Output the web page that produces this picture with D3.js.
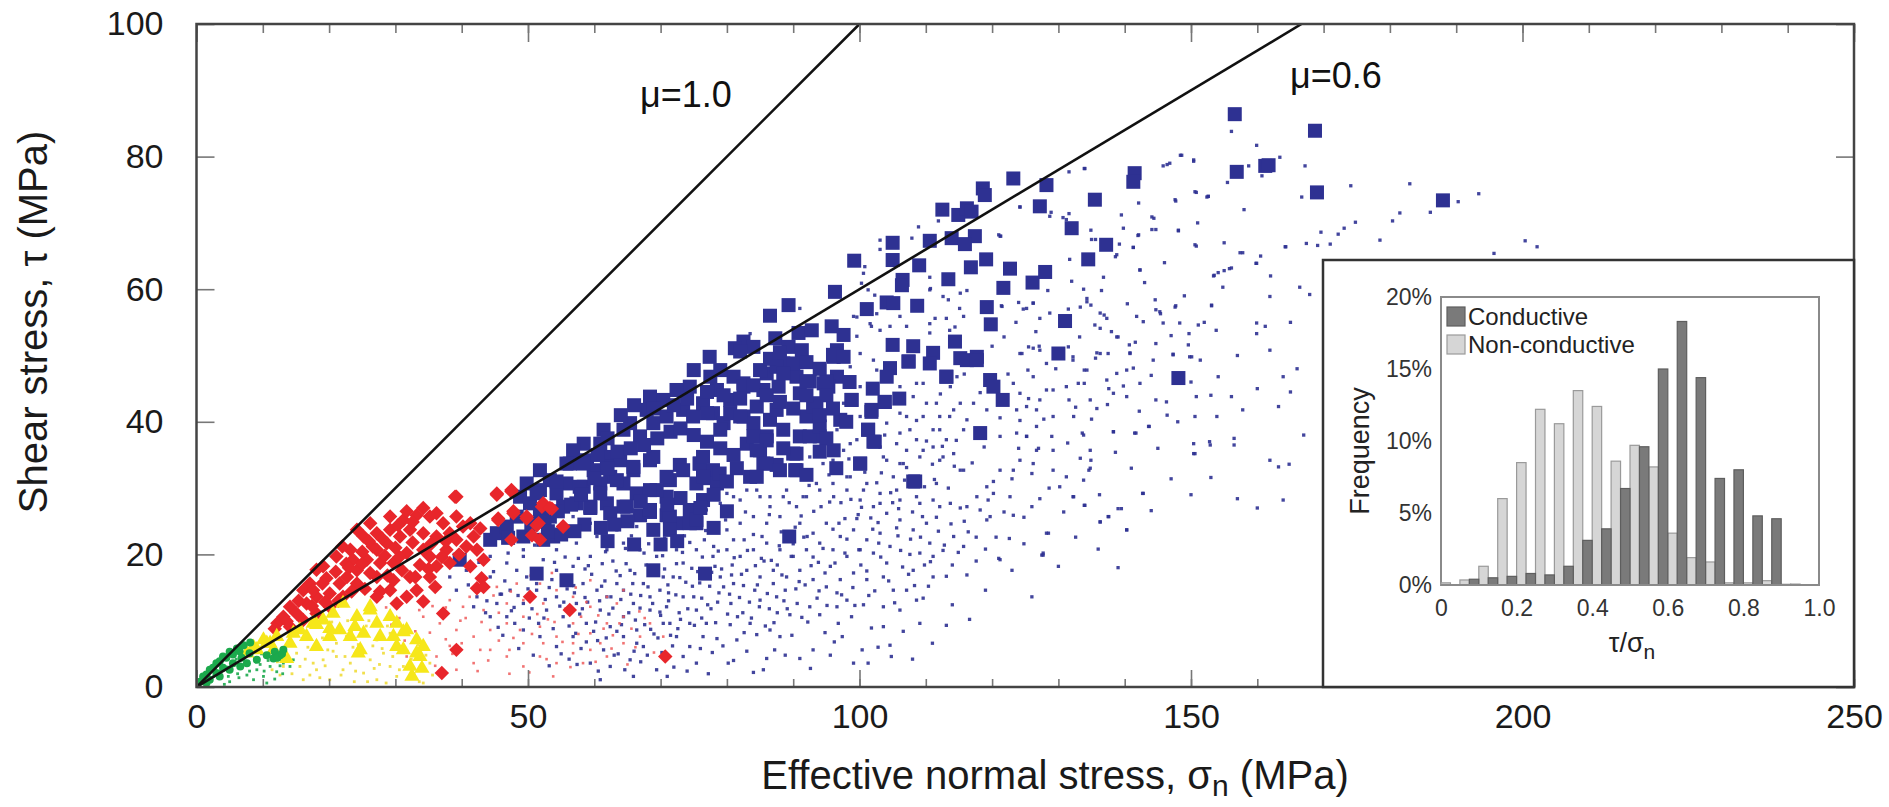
<!DOCTYPE html>
<html>
<head>
<meta charset="utf-8">
<script src="https://cdn.jsdelivr.net/npm/d3@7"></script>
<style>
  html, body { margin: 0; padding: 0; background: #fff; }
  svg { display: block; font-family: "Liberation Sans", Arial, sans-serif; }
</style>
</head>
<body>
<div id="chart"></div>
<script>
// ---- data ----
const xTicksMajor = [0, 50, 100, 150, 200, 250];
const xTicksMinor = d3.range(0, 251, 10);
const yTicksMajor = [0, 20, 40, 60, 80, 100];

const frictionLines = [
  { mu: 1.0, label: "μ=1.0", lx: 640, ly: 107 },
  { mu: 0.6, label: "μ=0.6", lx: 1290, ly: 88 }
];

// blue squares (conductive, large set)
const blueSquares = [
  [123.2,76.7],[118.6,75.2],[118.9,74.2],[128.2,75.7],[141.5,77.5],[141.3,76.2],[112.5,72.0],[114.9,71.2],
  [116.2,72.2],[116.9,71.7],[127.2,72.5],[135.5,73.5],[132.0,69.2],[110.6,67.3],[113.9,67.7],[117.4,68.0],
  [115.9,66.8],[105.0,67.0],[105.0,64.4],[99.2,64.3],[109.0,63.6],[119.1,64.5],[116.8,63.3],[122.7,63.1],
  [137.2,66.7],[134.5,64.5],[128.0,62.6],[106.5,61.4],[106.4,60.6],[113.4,61.5],[121.7,60.2],[126.1,61.0],
  [96.3,59.6],[89.3,57.6],[86.5,56.0],[101.1,57.0],[104.1,58.0],[105.1,57.9],[108.7,57.5],[119.2,57.3],
  [119.8,54.7],[131.0,55.2],[82.5,52.1],[87.3,52.6],[90.8,53.4],[92.8,53.8],[95.8,54.4],[97.6,53.1],
  [96.6,50.8],[105.0,51.6],[108.1,51.4],[114.4,52.1],[111.1,50.4],[117.7,49.8],[130.0,50.3],[77.4,49.8],
  [81.2,51.1],[84.0,51.3],[89.3,51.3],[91.3,50.8],
  [156.6,86.4],[168.7,83.9],[156.9,77.7],[161.2,78.6],[161.7,78.7],[169.0,74.6],[188.0,73.4],[148.1,46.6],
  [115.2,49.6],[110.6,48.8],[113.1,46.8],[107.4,49.1],[104.6,48.1],[104.1,46.8],[96.1,49.8],[96.6,46.8],
  [94.6,45.8],[95.3,45.3],[92.5,46.1],[90.5,46.8],[88.5,48.8],[86.0,47.3],[87.8,45.3],[85.5,44.8],
  [82.5,45.8],[81.0,46.8],[79.0,47.8],[77.5,46.8],[75.0,47.8],[74.4,45.3],[72.4,44.8],[70.4,43.3],
  [68.4,43.8],[67.9,41.8],[65.4,39.8],[68.9,39.8],[70.9,40.8],[73.4,41.8],[74.9,40.8],[76.4,42.8],
  [77.9,41.3],[79.5,39.8],[80.5,41.3],[82.5,40.8],[84.0,39.8],[86.5,40.3],[88.5,38.8],[91.0,37.8],
  [92.0,40.8],[93.5,42.8],[98.8,43.3],[101.8,41.8],[103.8,43.0],[101.3,38.8],[102.3,37.0],[100.1,33.7],
  [108.1,31.0],[94.0,37.8],[96.1,35.7],[86.0,37.8],[85.0,35.7],[83.0,36.7],[85.5,33.7],[83.5,31.7],
  [87.5,33.5],[90.3,32.7],[90.5,35.2],[75.9,33.7],[77.9,32.7],[76.4,31.5],[78.5,30.7],[72.9,33.5],
  [71.4,31.2],[70.9,28.7],[69.4,29.7],[68.4,34.2],[66.9,37.8],[64.4,38.8],[62.4,34.7],[61.4,38.8],
  [60.9,36.7],[58.4,36.7],[56.8,35.7],[56.3,33.7],[58.9,34.2],[59.9,32.7],[62.4,31.7],[64.4,30.7],
  [66.4,29.2],[65.9,32.7],[63.9,34.2],[60.9,30.7],[58.4,30.2],[55.8,30.7],[54.3,29.2],[53.3,31.2],
  [51.8,29.7],[49.8,30.7],[48.8,28.7],[50.3,27.7],[57.3,27.7],[59.4,27.0],[61.9,27.7],[64.4,27.2],
  [66.9,25.9],[68.4,26.4],[70.9,25.9],[72.4,24.7],[74.4,26.7],[75.4,24.7],[55.3,27.2],[51.8,26.2],
  [53.3,25.7],[48.3,25.7],
  [51.3,29.2],[54.3,31.0],[57.8,30.2],[60.9,29.2],[63.4,31.2],[59.4,27.2],[62.4,26.2],[64.9,27.2],
  [68.4,26.7],[71.4,25.7],[68.4,29.7],[70.9,31.7],[73.4,32.7],[75.4,30.7],[76.4,28.2],[74.4,24.7],
  [68.9,23.7],[71.4,23.7],[75.4,25.2],[76.7,17.1],[68.9,17.6],[55.8,16.1],[51.3,17.1],[52.3,22.2],
  [53.8,22.7],[49.3,22.7],[39.7,19.2],[44.3,22.2],[45.3,23.2],[46.8,24.2],[58.3,33.7],[61.9,33.2],
  [65.9,33.2],[68.9,34.7],[55.8,33.7],[51.8,32.7],[75.9,33.7],
  [82.0,50.6],[96.0,50.1],[97.6,49.8],[107.4,49.1],[116.2,49.3],[117.7,49.3],[113.1,46.8],[119.7,46.3],
  [120.2,45.3],[121.6,43.3],[98.8,43.3],[101.8,41.5],[103.8,43.0],[97.1,40.3],[101.3,38.8],[102.1,37.0],
  [100.1,33.7],[108.4,31.0],[118.2,38.3],[89.4,22.7],[95.0,46.1],[95.0,44.0],[91.0,44.3],[92.0,46.1],
  [85.0,47.8],[87.5,48.3],[90.0,48.8],[82.5,45.3],[80.5,43.3],[78.5,44.8],[77.0,41.3],[82.0,40.8],
  [84.5,42.3],[79.0,38.8],[84.0,37.8],[86.0,37.2],[84.5,35.7],[86.0,33.7],[84.5,31.7],[88.0,32.7],
  [90.5,32.7],[90.0,35.2],[92.5,37.8],[94.0,39.3],[95.0,37.5],[93.0,42.3],[76.4,34.7],[78.9,32.2],
  [76.4,31.7],[87.5,41.8],[88.5,47.3],
  [50.5,24.5],[52.5,25.0],[54.5,26.5],[56.5,27.5],[58.0,29.0],[60.0,31.5],[62.0,33.0],[63.5,35.5],
  [65.5,36.0],[67.5,36.5],[69.5,37.5],[71.5,38.5],[73.0,39.0],[75.0,38.0],[77.0,37.0],[79.0,36.0],
  [81.0,35.0],[81.5,33.0],[80.0,31.0],[78.0,29.0],[76.0,27.0],[73.0,28.5],[71.0,27.5],[67.0,28.0],
  [65.0,25.0],[63.0,24.5],[61.0,24.0],[58.5,24.5],[57.0,23.5],[55.0,23.0],[53.0,23.5],[47.0,22.5],
  [62.0,22.0],[66.0,21.5],[70.0,21.5],[72.5,22.0],[60.5,35.0],[62.0,37.5],[64.0,41.0],[66.0,42.5],
  [69.0,42.0],[72.0,42.5],[74.0,43.5],[77.0,44.5],[79.5,44.0],[82.0,43.5],[84.0,45.5],[86.0,44.0],
  [88.0,43.0],[90.0,42.0],[92.0,44.0],[94.0,41.0],[96.0,42.0],[98.0,40.0],[86.5,49.5],[88.0,50.5],
  [92.0,49.0],[94.0,48.0],[98.5,46.0],[102.0,45.0],[106.0,43.5],[88.5,36.0],[92.0,32.0],[94.0,35.5],
  [96.5,33.0],[80.0,26.5],[78.0,24.0]
];

// red diamonds
const redDiamonds = [
  [39.0,28.7],[45.3,29.2],[47.5,29.5],[52.3,27.7],[53.6,26.9],[47.8,26.5],[49.8,25.4],[51.3,24.4],
  [50.6,22.9],[51.8,22.2],[47.5,22.2],[45.5,25.4],[42.8,23.9],[41.8,22.7],[43.0,16.4],[42.3,14.9],
  [55.3,24.2],[50.3,13.6],[56.3,11.6],[70.7,4.6],[39.2,5.6],[37.0,2.1],[36.0,15.1],[34.2,12.9],
  [37.2,11.1],[35.2,16.6],[31.7,13.6],[29.2,14.6],[27.7,14.4],[29.7,16.1],[27.2,16.6],[33.7,18.4],
  [35.2,19.7],[37.7,20.7],[39.2,22.2],[40.2,24.2],[37.2,24.7],[35.2,25.7],[33.2,25.9],[31.2,25.2],
  [29.2,23.7],[27.2,23.2],[25.2,22.7],[23.2,20.7],[21.1,19.7],[19.1,18.2],[18.1,17.7],[17.1,15.6],
  [16.1,14.6],[14.1,12.1],[13.1,10.6],[15.1,11.1],[16.6,12.6],[18.1,13.6],[20.1,14.1],[21.6,15.6],
  [22.7,16.6],[24.2,17.6],[25.7,19.2],[27.2,20.7],[28.7,21.7],[30.7,22.7],[32.2,23.7],[34.2,23.2],
  [36.2,22.7],[38.2,23.2],[34.2,20.7],[31.7,20.2],[29.7,18.7],[27.7,18.7],[26.2,17.2],[24.2,15.6],
  [22.1,13.6],[20.1,12.1],[18.1,11.1],[16.1,10.1],[14.1,9.1],[27.2,13.6],[30.2,12.6],[33.2,14.6],
  [32.2,16.6],[36.2,18.2],[38.2,18.7],[40.7,21.2],[42.3,20.7],[43.3,19.2],[41.3,18.2],[43.3,15.1],
  [24.2,23.7],[26.2,24.7],[29.2,25.7],[31.7,26.5],[34.2,27.0],[36.2,26.2],[39.2,25.7],
  [39.2,28.7],[45.3,29.0],[47.5,29.7],[41.3,24.7],[45.5,25.2],[47.8,26.2],[49.8,25.7],[52.1,27.2],
  [53.3,27.0],[51.6,24.7],[55.3,24.2],[12.2,9.6],[13.6,9.9],[11.8,8.8],[19.6,16.4],[22.6,18.6],
  [25.0,20.4],[28.0,22.4],[30.4,24.4],[32.6,24.9],[17.6,14.6],[23.6,19.2],[26.6,21.2],
  [19.0,15.6],[21.0,17.4],[23.0,18.0],[25.0,18.6],[28.4,19.8],[30.6,19.6],[32.6,21.8],[35.4,21.6],
  [37.6,22.0],[39.6,20.0],[15.4,13.0],[17.4,12.2],[19.4,12.8],[21.4,13.0],[23.4,14.4],[25.4,14.8],
  [28.8,16.8],[31.0,17.6],[33.0,16.6],[35.0,17.8],[30.0,21.0],[26.0,22.0],[22.0,21.2],[37.0,19.6]
];

// yellow triangles
const yellowTriangles = [
  [26.2,12.1],[24.2,10.6],[25.2,8.1],[27.2,9.6],[29.2,10.6],[30.2,9.6],[31.7,8.6],[33.2,7.1],
  [34.2,6.1],[33.7,4.6],[32.2,3.1],[31.2,5.6],[30.2,6.1],[27.7,7.6],[21.6,8.6],[20.1,7.6],
  [18.1,6.1],[16.6,7.6],[14.1,6.6],[13.1,4.6],[22.1,12.6],[20.6,11.1],[19.1,10.1],[17.6,9.6],
  [15.6,8.6],[12.1,7.6],[10.6,6.6],[9.1,5.6],[7.6,5.1],[11.6,5.6],[23.2,7.6],[24.7,5.6],
  [29.7,7.6],[24.4,5.1],[23.9,9.1],[26.2,11.6],[31.2,8.3],[33.2,5.1],[34.0,2.8],[32.5,1.6],
  [18.1,9.4],[20.1,8.8],[13.6,4.3],[11.1,6.6],[8.6,6.0],[10.1,7.1],[14.6,8.1]
];

// green markers
const greenMarks = [
  [1.0,1.6],[2.0,2.6],[3.0,3.6],[4.0,4.6],[5.0,5.3],[6.1,5.8],[7.1,6.3],[8.1,6.7],[2.0,1.1],[3.5,1.6],
  [5.0,2.6],[6.6,3.1],[7.6,3.6],[9.1,4.1],[10.6,4.8],[11.8,5.3],[12.6,4.8],[11.6,4.3],[13.1,5.6],[1.5,0.6],
  [0.5,0.8],[1.5,1.9],[2.5,2.9],[3.5,3.9],[4.5,4.4],[5.5,4.9],[6.5,5.4],[3.0,2.1],[4.0,2.9],[5.5,3.6],
  [6.8,4.4],[8.0,5.1],[12.2,4.4],[12.9,5.0]
];

const blueDots = [
  [156.1,83.8],[159.9,81.7],[163.4,79.9],[167.2,78.6],[158.7,78.6],[160.7,77.1],[155.5,76.1],[152.6,74.0],
  [166.7,73.9],[174.1,75.6],[183.0,75.9],[186.1,71.6],[190.3,73.2],[193.4,74.4],[181.5,71.5],[180.4,70.3],
  [174.8,70.1],[173.1,69.2],[172.2,68.3],[169.6,68.6],[178.5,67.4],[171.0,66.8],[169.1,66.6],[167.4,66.9],
  [164.3,66.4],[157.4,65.5],[160.5,65.0],[159.8,63.9],[156.1,63.2],[155.0,62.8],[153.5,62.1],[200.4,67.3],
  [202.2,66.4],[195.7,65.4],
  [148.4,80.2],[146.4,78.8],[150.4,79.3],[150.8,74.6],[152.4,73.9],[147.7,73.3],[144.4,70.7],[144.7,69.0],
  [148.1,68.9],[142.0,68.1],[141.3,66.3],[150.8,66.5],[142.3,62.9],[157.8,65.5],[159.9,63.9],[154.1,62.5],
  [155.8,63.1],[153.4,62.0],[154.8,60.3],[161.9,58.9],[164.2,66.4],
  [131.6,77.7],[133.9,78.2],[124.2,72.4],[121.3,68.0],[135.6,67.5],[138.6,64.9],[131.6,71.4],[131.2,70.5],
  [134.9,68.9],[128.9,71.6],[144.7,56.9],[145.4,56.3],[147.7,57.5],[153.1,57.6],[159.9,54.9],[161.2,54.4],
  [134.3,58.1],[134.9,57.6],[136.9,56.1],[139.0,52.8],[136.3,54.1],[140.7,51.6],[144.7,51.8],[149.7,53.3],
  [153.8,53.8],[159.9,53.3],[161.9,50.8],[163.9,46.8],[154.1,46.8],[148.4,46.1],[142.3,45.8],[140.3,47.8],
  [133.9,47.8],[132.2,49.3],[129.5,49.8],[125.5,51.3],[127.2,50.8],[121.8,52.8],[121.5,57.4],[126.2,57.9],
  [125.2,57.1],[124.2,50.3],[131.6,43.3],[140.3,43.8],[156.1,43.8],[157.8,41.8],[163.2,42.3],[137.6,45.0],
  [128.2,44.8],[125.5,43.5],
  [134.0,78.2],[148.6,80.2],[150.4,79.5],[146.8,79.0],[145.8,78.6],[150.6,74.7],[152.6,74.0],[147.6,73.5],
  [142.1,73.0],[139.5,71.2],[144.1,70.9],[139.8,69.2],[142.1,68.2],[144.1,69.0],[148.1,68.8],[150.6,66.7],
  [141.3,66.3],[135.0,67.5],[138.8,65.2],[142.3,62.9],[131.7,64.5],[128.7,71.0],[130.7,70.8],[124.2,72.4],
  [121.2,68.0],[133.8,60.0],[136.5,59.8],[134.3,58.6],[133.3,57.3],[136.3,56.4],[137.3,55.6],[135.5,54.6],
  [131.5,57.0],[128.7,56.4],[127.2,55.6],[124.7,57.0],[124.0,58.0],[126.2,57.9],[141.8,55.9],[142.8,55.1],
  [144.6,58.4],[145.3,56.6],[147.6,57.3],[145.8,54.9],[148.3,54.9],[151.1,54.6],[153.1,57.5],[149.6,51.6],
  [147.3,50.2],[150.1,49.8],[138.8,52.8],[140.8,50.4],[137.5,50.3],[135.8,50.4],[131.5,51.3],[127.1,51.4],
  [124.5,50.3],[126.2,51.1],[121.4,57.5],
  [100.8,63.4],[100.3,60.9],[100.6,62.4],[103.1,66.0],[103.1,67.4],[107.9,67.7],[108.9,69.4],[111.9,70.3],
  [110.6,61.8],[110.7,60.1],[113.4,58.4],[116.2,59.8],[115.1,57.1],[111.4,55.6],[113.1,55.6],[114.4,54.3],
  [110.6,53.4],[107.1,54.4],[104.6,54.4],[101.8,54.4],[99.6,52.9],[99.1,55.9],[102.3,59.1],[101.3,59.9],
  [91.0,57.1],[83.5,53.3],[121.0,68.2],
  [166.4,60.3],[167.9,59.2],[166.0,48.0],[165.0,44.5],[167.0,38.0],[163.9,28.2],[164.8,33.6],[160.0,27.0],
  [150.4,36.7],[152.8,37.0],[156.5,37.5],[156.5,36.5],[161.9,34.2],[163.2,33.2],[142.7,29.2],[140.3,23.7],
  [137.6,25.7],[136.3,24.9],[139.0,26.9],[132.2,28.7],[133.9,27.4],[128.2,23.2],[127.5,19.9],[134.6,32.7],
  [134.9,34.2],[133.6,38.3],[138.3,38.5],[141.7,38.3],[143.7,39.3],[150.4,35.2],[146.4,41.0],[144.7,43.3],
  [138.3,44.3],[133.9,45.8],
  [100.1,50.3],[102.1,49.3],[104.1,46.3],[106.1,41.3],[108.6,45.8],[110.1,42.8],[112.1,40.8],[114.2,41.8],
  [116.2,40.3],[117.2,42.8],[119.2,41.8],[121.2,37.8],[123.7,38.3],[125.2,37.8],[126.7,35.7],[124.2,34.2],
  [123.2,32.7],[121.2,32.7],[120.2,31.0],[119.2,30.2],[117.7,28.7],[116.2,27.2],[115.7,32.7],[114.2,35.2],
  [112.1,34.2],[111.1,36.2],[109.1,34.7],[107.1,35.7],[106.1,33.7],[105.1,31.7],[104.1,34.2],[103.1,36.2],
  [106.1,38.3],[108.6,37.3],[111.1,38.8],[113.1,37.3],[107.1,40.8],[104.1,39.8],[99.6,37.3],[97.6,35.7],
  [96.0,34.2],[98.6,31.7],[101.1,30.7],[103.1,29.2],[106.1,28.2],[109.1,27.7],[111.1,28.2],[112.1,27.2],
  [110.1,24.7],[108.1,23.7],[106.1,25.2],[104.1,26.2],[102.1,27.2],[100.1,28.2],[98.1,29.7],[96.0,30.7],
  [94.0,29.7],[92.0,28.7],[90.5,27.2],[88.5,28.7],[86.5,27.2],[85.0,28.7],[83.0,29.7],[81.0,28.7],
  [79.0,27.7],[76.9,26.7],[77.9,24.7],[80.0,23.7],[82.0,24.7],[84.0,25.7],[86.0,24.7],[88.0,25.7],
  [91.0,24.7],[93.0,23.2],[95.0,24.7],[97.1,22.7],[99.1,23.7],[101.1,22.2],[103.1,23.2],[104.6,21.2],
  [102.1,20.2],[100.1,20.7],[98.1,19.7],[96.0,20.7],[94.0,21.7],[92.0,20.7],[90.0,19.7],[88.0,20.7],
  [86.0,21.7],[84.0,20.7],[82.0,19.7],[80.0,20.7],[77.9,19.7],[79.0,16.6],[81.0,15.6],[83.0,17.6],
  [85.0,16.6],[87.0,15.6],[89.0,16.6],[91.0,17.6],[93.0,16.2],[95.0,15.1],[97.1,16.2],[99.1,17.2],
  [101.1,16.2],[103.6,16.6],[105.1,14.6],[107.1,14.6],[108.6,13.1],[109.6,13.4],[111.1,16.6],[108.1,17.6],
  [110.6,21.7],[109.1,20.2],[115.7,21.2],[116.2,16.9],[121.0,19.4],[127.7,20.2],[128.5,23.2],[132.3,28.7],
  [134.0,27.4],[136.3,24.9],[137.5,25.7],[139.5,26.9],[140.3,23.7],[142.8,29.2],[134.8,33.0],[134.8,35.7],
  [133.8,38.0],[138.3,38.5],[141.5,38.3],[143.6,39.3],[150.6,35.2],[152.9,36.5],[153.9,40.8],[150.6,40.8],
  [146.3,43.0],[150.8,43.8],[149.8,49.8],[151.4,49.3],[144.3,49.3],[141.3,48.1],[138.8,47.3],[137.3,46.3],
  [134.3,47.8],[133.0,45.8],[131.2,45.3],[129.2,44.8],[127.2,43.3],[125.2,42.3],[124.2,44.3],[123.2,45.8],
  [126.2,46.8],[128.2,48.8],[132.2,49.8],[136.3,50.3],[140.8,50.3],[147.3,50.1],[135.8,42.0],[132.3,40.8],
  [134.8,43.3],[129.2,40.8],[126.7,41.8],[123.7,41.8],[126.7,39.3],[124.0,36.0],[127.0,36.0],[129.2,35.7],
  [133.3,34.5],[131.2,31.7],[129.2,32.7],[126.2,33.7],[125.2,37.8],[119.7,25.7],[122.7,28.7],[120.2,29.2],
  [118.2,26.7],[114.2,22.7],[111.1,19.7],[109.1,9.6],[113.1,9.3],[104.6,6.3],[104.8,4.6],[101.8,8.9],
  [103.6,9.1],[99.1,3.6],[101.3,3.6],[91.0,4.3],[86.0,4.3],[85.5,2.6],[86.5,8.6],[88.0,7.6],
  [84.5,7.9],[81.5,7.1],[78.5,7.3],[76.9,9.6],[80.5,9.4],[83.5,9.6],[85.0,13.1],[87.5,13.6],
  [89.5,10.9],[92.5,12.1],[94.0,10.9],[96.6,12.1],[98.1,13.1],[103.6,12.1],[106.1,11.6],[127.7,19.9],
  [121.2,19.2],[119.2,25.2],[123.2,25.9],
  [38.2,16.6],[39.2,14.6],[40.7,17.6],[42.3,13.6],[44.3,16.6],[45.3,12.6],[47.3,14.6],[48.3,17.6],
  [49.3,12.6],[51.3,14.6],[52.8,11.6],[54.3,13.6],[55.3,10.6],[57.3,12.6],[58.8,9.6],[60.9,11.6],
  [62.4,9.1],[64.4,10.6],[66.4,8.6],[68.4,11.6],[69.9,14.6],[71.9,16.6],[73.4,13.6],[75.4,11.6],
  [74.4,9.6],[72.4,7.6],[70.4,9.6],[67.4,6.1],[64.4,7.6],[61.4,5.6],[59.4,3.6],[62.4,3.1],
  [65.4,4.1],[69.4,2.6],[73.4,4.6],[74.4,6.1],[60.9,1.1],[56.8,7.6],[54.3,6.1],[51.8,7.6],
  [49.3,8.6],[46.8,10.6],[44.3,10.6],[41.8,12.1],[56.8,18.2],[59.4,19.7],[61.9,20.7],[64.4,21.7],
  [66.9,20.7],[69.4,19.7],[72.4,20.7],[75.4,20.7],[73.4,18.7],[70.4,16.6],[67.4,15.6],[65.4,17.6],
  [63.4,15.6],[60.4,14.6],[58.3,15.6],[54.3,17.6],[52.3,19.2],[49.3,19.7],[46.8,18.7],[44.3,19.7],
  [54.3,20.7],[57.3,21.7],[60.4,22.7],[63.4,23.7],[66.4,24.2],[59.4,24.7],[56.8,25.7],[49.3,20.7],
  [51.3,15.6],[61.9,13.6],[65.9,12.6],[68.4,13.6],[70.9,12.1],[64.4,14.6],[71.4,9.6],[76.4,7.6],
  [75.4,3.6],[65.9,1.6],
  [98.6,48.3],[100.1,45.3],[102.6,47.8],[106.1,45.3],[108.1,43.8],[109.6,45.8],[111.6,42.8],[113.6,40.8],
  [115.7,38.8],[112.1,38.8],[109.6,40.8],[107.6,38.8],[105.6,36.7],[103.6,34.7],[106.6,33.7],[109.6,35.7],
  [112.6,34.7],[115.2,32.7],[111.6,30.7],[108.6,28.7],[105.6,29.7],[103.1,27.7],[100.6,29.7],[98.1,31.7],
  [96.1,28.7],[93.5,30.7],[91.5,28.7],[89.0,29.7],[86.5,28.7],[84.5,29.7],[82.0,28.2],[80.0,29.2],
  [94.5,33.7],[92.5,34.7],[98.6,36.7],[96.6,38.8],[100.1,40.8],[97.6,42.8],[113.7,45.3],[115.2,42.8],
  [111.1,48.8],[114.7,46.8],[110.6,54.8],[113.6,53.8],[115.7,55.9],[112.6,58.9],[115.2,59.4],[110.6,59.9],
  [103.1,53.8],[101.6,54.8],[102.6,56.3],[99.6,55.8],[106.1,55.9],
  [43.6,11.2],[45.8,14.0],[47.9,12.0],[50.2,10.4],[52.6,13.2],[55.9,14.8],[57.8,11.0],[59.9,8.4],
  [62.8,11.9],[63.9,16.8],[66.2,10.1],[67.8,18.4],[69.0,8.0],[71.2,13.0],[72.8,11.2],[74.8,15.2],
  [76.2,13.4],[77.6,11.8],[78.8,14.2],[80.6,12.6],[82.4,11.2],[84.2,14.6],[86.4,11.8],[88.6,13.0],
  [90.4,14.8],[92.2,9.8],[94.8,8.2],[96.8,9.6],[98.8,10.6],[100.6,12.4],[53.6,16.2],[55.6,19.6],
  [58.6,17.8],[61.2,18.6],[62.6,22.2],[65.6,22.8],[68.2,21.6],[70.6,22.4],[73.6,22.8],[76.6,22.2],
  [78.2,18.2],[80.8,18.4],[82.6,22.2],[85.6,19.0],[87.6,18.4],[89.6,22.2],[91.6,22.6],[93.8,18.8],
  [95.6,18.2],[97.8,25.4],[99.8,26.0],[102.8,24.8],[105.8,22.8],[107.6,20.0],[109.8,18.4],[112.6,20.6],
  [113.8,24.6],[115.8,25.0],[117.6,22.6],[119.0,20.8],[122.6,22.4],[124.8,21.6],[126.0,27.2],[128.6,30.0],
  [130.8,26.4],[56.2,4.2],[58.0,5.8],[63.6,5.0],[67.0,3.8],[70.2,5.2],[72.0,3.0],[77.8,5.2],[80.2,3.6],
  [83.0,5.4],[88.8,4.8],[93.0,5.6],[96.2,6.8],[48.6,5.8],[46.2,7.8],[50.8,4.8],[53.2,3.2],
  [45.5,9.0],[46.5,16.0],[47.5,11.5],[48.5,13.8],[49.8,16.6],[50.6,11.8],[51.6,9.6],[52.0,17.2],
  [53.2,15.0],[53.8,8.8],[54.8,12.2],[55.6,16.8],[56.2,9.2],[57.0,14.2],[57.6,19.4],[58.2,11.8],
  [58.8,6.8],[59.6,17.0],[60.2,9.8],[60.8,13.0],[61.6,16.0],[62.2,11.0],[62.8,19.0],[63.4,8.4],
  [64.0,13.2],[64.8,18.6],[65.2,11.2],[65.8,15.6],[66.4,6.6],[67.0,13.8],[67.6,9.4],[68.2,17.2],
  [68.8,12.6],[69.4,22.0],[70.0,10.8],[70.6,17.8],[71.2,14.2],[71.8,6.2],[72.4,18.6],[73.0,10.2],
  [73.8,15.8],[74.4,21.8],[75.0,13.6],[75.6,17.4],[76.2,10.4],[76.8,23.6],[77.4,15.2],[78.0,21.2],
  [78.6,12.8],[79.2,17.8],[79.8,25.2],[80.4,14.0],[81.0,22.2],[81.6,10.6],[82.2,17.0],[82.8,26.4],
  [83.4,12.8],[84.0,23.0],[84.6,15.4],[85.2,19.4],[85.8,9.2],[86.4,26.0],[87.0,17.6],[87.6,11.2],
  [88.2,23.4],[88.8,14.6],[89.4,27.8],[90.0,21.6],[90.6,12.6],[91.2,25.8],[91.8,15.4],[92.4,30.4],
  [93.0,19.6],[93.6,13.4],[94.2,27.2],[94.8,17.2],[95.4,32.0],[96.0,23.8],[96.6,14.2],[97.2,27.8],
  [97.8,20.2],[98.4,34.4],[99.0,15.0],[99.6,25.4],[100.2,18.4],[100.8,32.4],[101.4,13.8],[102.0,23.8],
  [102.6,30.8],[103.2,19.6],[103.8,38.0],[104.4,16.0],[105.0,27.8],[105.6,24.0],[106.2,20.6],[106.8,31.2],
  [107.4,17.0],[108.0,26.4],[108.6,40.2],[109.2,22.6],[109.8,30.2],[110.4,15.2],[111.0,33.6],[111.6,25.6],
  [112.2,44.2],[112.8,21.4],[113.4,30.0],[114.0,18.4],[114.6,37.2],[115.2,27.0],[115.8,47.2],[116.4,23.4],
  [117.0,33.8],[117.6,19.0],[118.2,44.4],[118.8,36.2],[119.4,28.2],[120.0,51.4],[120.6,22.6],[121.2,40.6],
  [121.8,26.4],[122.4,47.2],[123.0,31.4],[123.6,55.0],[124.2,40.2],[124.8,25.6],[125.4,47.8],[126.0,32.2],
  [126.6,53.6],[127.2,28.4],[127.8,40.4],[128.4,59.8],[129.0,37.8],[129.6,48.0],[130.2,30.2],[130.8,55.8],
  [131.4,36.8],[132.0,61.2],[132.6,42.2],[133.2,52.8],[133.8,31.2],[134.4,64.2],[135.0,40.4],[135.6,49.6],
  [136.2,29.0],[136.8,61.8],[137.4,42.6],[138.0,53.6],[138.6,35.4],[139.2,66.8],[139.8,45.4],[140.4,57.8],
  [141.0,33.0],[141.6,52.0],[142.2,41.6],[143.0,61.0],[144.0,47.0],[145.0,36.0],[146.0,64.0],[147.0,53.0],
  [148.0,40.0],[149.0,59.0],[150.0,46.0],[151.0,70.0],[152.0,55.0],[153.0,44.0],[155.0,67.0],[157.0,50.0],
  [158.0,72.0],[160.0,45.0],[162.0,62.0],[165.0,55.0],
  [41.0,15.4],[42.6,18.8],[43.8,13.0],[44.8,17.4],[46.0,14.0],[47.0,20.2],[48.0,9.6],[50.0,14.8],
  [51.0,21.4],[52.4,10.4],[54.0,18.8],[55.0,5.0],[57.4,3.4],[59.0,12.8],[60.6,2.4],[61.8,7.4],
  [63.0,4.8],[64.6,2.6],[66.0,5.4],[68.0,4.8],[69.6,7.4],[71.0,1.6],[72.6,8.8],[74.0,2.4],
  [76.0,5.8],[77.2,2.0],[79.4,6.2],[81.0,4.0],[82.6,8.2],[84.0,2.2],[87.2,5.6],[89.8,7.8],
  [92.6,2.8],[95.6,4.8],[97.4,7.6],[100.4,5.6],[102.8,6.0],[106.6,8.4],[108.0,4.2],[111.0,6.6],
  [114.0,12.4],[116.6,10.2],[119.0,14.6],[123.0,17.6],[126.0,13.6],[130.0,18.2],[132.6,22.6],[136.0,20.8],
  [139.0,18.0],[144.0,26.6],[147.0,31.4],[150.0,29.0],[153.0,31.6],[157.0,28.4],
  [55.4,12.8],[56.9,15.3],[57.2,8.1],[58.6,13.5],[59.1,18.3],[60.5,7.0],[61.1,15.2],[61.7,20.4],
  [62.5,13.6],[63.3,17.5],[64.1,9.4],[64.7,20.9],[65.5,14.0],[66.1,17.1],[66.9,11.9],[67.5,20.2],
  [68.1,15.1],[68.5,8.7],[69.3,17.2],[69.9,11.3],[70.3,19.8],[71.1,15.4],[71.5,7.8],[72.3,13.9],
  [72.9,16.5],[73.3,20.3],[74.1,11.8],[74.7,17.9],[75.1,9.3],[75.9,15.7],[76.3,19.6],[77.1,12.4],
  [77.7,17.3],[78.3,9.7],[78.7,20.5],[79.5,15.1],[80.1,11.0],[80.7,16.9],[81.1,19.5],[81.9,13.5],
  [82.5,15.3],[83.1,20.6],[83.7,10.4],[84.3,18.3],[84.9,12.1],[85.3,22.7],[86.1,14.1],[86.7,19.1],
  [87.1,9.7],[87.9,21.3],[88.3,16.9],[89.1,11.8],[89.7,19.7],[90.3,24.1],[90.9,15.9],[91.3,10.5],
  [92.1,22.7],[92.7,18.3],[93.1,26.5],[93.9,14.5],[94.5,20.9],[95.1,12.3],[95.5,27.9],[96.3,18.7],
  [96.9,24.7],[97.3,13.9],[98.1,22.3],[98.7,28.3],[99.3,12.3],[99.9,20.7],[100.3,27.1],[101.1,17.5],
  [101.7,25.5],[102.3,14.5],[102.9,21.7],[103.3,32.3],[104.1,18.7],[104.7,29.3],[105.3,12.7],[105.9,26.9],
  [106.5,18.1],[107.1,33.1],[107.7,22.3],[108.3,15.3],[108.9,30.9],[109.5,25.7],[110.1,37.1],[110.7,18.9],
  [111.3,31.3],[111.9,23.5],[112.5,36.3],[113.1,16.7],[113.7,27.7],[114.3,33.3],[114.9,20.3]
];

const redDots = [
  [34.2,10.6],[36.7,9.6],[39.2,8.6],[41.8,7.6],[44.3,8.6],[46.8,9.6],[49.3,10.6],[51.8,9.1],
  [54.3,7.6],[56.8,6.6],[59.4,8.1],[61.9,9.6],[64.4,10.6],[44.3,5.6],[46.8,4.6],[49.3,3.1],
  [51.8,4.6],[54.3,3.6],[41.8,3.6],[39.2,2.6],[36.2,4.6],[34.2,6.6],[31.7,4.6],[46.8,12.6],
  [49.3,13.1],[52.3,12.6],[56.8,13.6],[59.4,12.1],[61.9,13.6],[43.3,11.6],[40.2,12.1],[38.2,13.1],
  [56.8,9.6],[59.4,5.6],[64.4,6.6],[66.9,7.6],[61.9,4.6],[58.3,3.6],[63.4,12.6],[45.3,15.1],
  [48.3,15.6],[59.4,16.1],[54.3,14.6],[51.8,15.6],[64.4,14.6],[52.3,6.6],[49.3,6.6],[42.8,5.6],
  [56.8,5.1],[60.9,6.6],[68.4,9.6],[37.6,7.2],[40.6,10.4],[43.0,9.8],[45.6,11.2],[47.8,7.4],
  [50.6,8.0],[53.0,10.2],[55.6,11.8],[58.0,10.6],[60.6,10.8],[62.8,7.8],[65.6,8.8],[66.8,11.4],
  [53.8,1.6],[47.2,2.0],[38.2,6.2],[33.0,8.4],[35.6,12.2],[30.6,10.4],
  [36.0,3.2],[38.6,5.0],[40.0,6.6],[42.4,2.4],[44.0,4.0],[45.6,7.0],[47.2,5.6],[48.8,8.6],
  [50.2,2.2],[51.4,11.0],[52.8,4.2],[54.0,9.8],[55.2,6.8],[56.4,3.0],[57.6,8.0],[58.8,12.8],
  [60.2,3.8],[61.4,8.8],[62.6,5.8],[63.8,9.6],[65.0,3.4],[66.2,6.0],[67.6,10.4],[69.0,5.2],
  [70.4,7.6],[35.2,8.2],[33.6,11.6],[37.6,12.0],[39.8,10.0],[41.2,13.6],[44.8,13.8],[47.4,14.4],
  [50.4,16.8],[53.6,17.2],[57.2,15.0],[31.4,7.0],[29.4,9.4],[28.6,12.0]
];

const yellowDots = [
  [15.6,3.1],[17.1,1.8],[19.1,4.1],[20.1,1.1],[21.1,6.6],[22.1,2.6],[23.2,3.6],[25.2,2.1],
  [26.2,4.1],[27.2,1.1],[28.2,5.1],[29.2,3.1],[30.2,1.6],[21.1,4.6],[18.1,2.6],[16.1,1.1],
  [15.1,5.1],[14.1,6.6],[22.6,7.6],[27.2,7.1],[31.2,3.1],[34.2,0.6],[29.2,8.1],[18.1,6.6],
  [13.1,3.1],[19.8,5.6],[24.4,6.4],[26.8,2.8],[32.4,4.2],[28.6,0.6],[23.8,0.8],[17.6,3.6],
  [12.6,1.8],[11.4,2.6],[35.2,3.6],[33.6,0.8],[25.6,9.2],[22.8,10.0],
  [14.4,2.0],[16.4,4.2],[18.6,1.4],[19.4,3.2],[20.6,5.4],[21.8,1.8],[22.4,4.6],[23.6,6.0],
  [24.0,2.4],[25.0,4.8],[25.8,0.8],[26.6,6.2],[27.6,3.4],[28.0,5.8],[29.6,4.6],[30.6,2.6],
  [31.8,5.4],[32.8,2.0],[33.4,6.4],[34.6,4.8],[35.6,1.8],[19.0,7.4],[16.8,6.0],[12.2,3.8],
  [20.4,9.8],[23.4,8.4],[26.0,10.0],[28.8,9.2]
];

const greenDots = [
  [9.1,2.6],[10.1,1.6],[11.1,3.1],[12.1,2.3],[13.1,3.6],[14.1,3.1],[8.6,1.1],[5.0,0.8],
  [10.6,0.6],[7.6,1.8],[14.6,4.1],[6.4,1.4],[9.6,3.4],[11.8,1.2],[13.0,2.0],[4.2,0.4],
  [1.2,0.6],[2.6,1.6],[3.6,2.4],[4.6,3.0],[6.0,4.2],[7.2,4.8],[8.4,5.6],[9.8,5.0],
  [10.8,4.0],[11.4,5.8],[13.4,4.6],[12.6,3.2],[10.2,2.4],[8.0,2.4],[6.2,2.0],[4.8,1.6]
];

// histogram inset (bin start, frequency %)
const binStarts = [0.00,0.05,0.10,0.15,0.20,0.25,0.30,0.35,0.40,0.45,0.50,0.55,0.60,0.65,0.70,0.75,0.80,0.85,0.90];
const nonConductive = [0.15,0.35,1.3,6.0,8.5,12.2,11.2,13.5,12.4,8.6,9.7,8.2,3.6,1.9,1.6,0.15,0.15,0.3,0.05];
const conductive    = [0.0,0.4,0.5,0.6,0.8,0.7,1.3,3.1,3.9,6.7,9.6,15.0,18.3,14.4,7.4,8.0,4.8,4.6,0.05];
const histXTicks = [0, 0.2, 0.4, 0.6, 0.8, 1.0];
const histYTicks = [0, 5, 10, 15, 20];

// ---- layout ----
const W = 1889, H = 807;
const PL = 196.5, PR = 1854, PT = 24, PB = 687;

const svg = d3.select("#chart").append("svg").attr("width", W).attr("height", H);

const x = d3.scaleLinear().domain([0, 250]).range([PL, PR]);
const y = d3.scaleLinear().domain([0, 100]).range([PB, PT]);

svg.append("defs").append("clipPath").attr("id", "plotclip")
  .append("rect").attr("x", PL).attr("y", PT).attr("width", PR - PL).attr("height", PB - PT);

const plot = svg.append("g").attr("clip-path", "url(#plotclip)");

const BLUE = "#2e3192", RED = "#e8262b", YELLOW = "#f6e71a", GREEN = "#1ba94c";

function dots(data, color, size, opacity) {
  plot.append("g").selectAll("rect").data(data).enter().append("rect")
    .attr("x", d => x(d[0]) - size / 2)
    .attr("y", d => y(d[1]) - size / 2)
    .attr("width", size).attr("height", size)
    .attr("fill", color).attr("opacity", opacity);
}
dots(blueDots, BLUE, 3.3, 0.9);
dots(redDots, "#ee5a5a", 2.6, 0.85);
dots(yellowDots, "#efdc3a", 2.8, 0.9);
dots(greenDots, GREEN, 2.8, 0.9);

// big markers
plot.append("g").selectAll("rect").data(blueSquares).enter().append("rect")
  .attr("x", d => x(d[0]) - 7).attr("y", d => y(d[1]) - 7)
  .attr("width", 14).attr("height", 14).attr("fill", BLUE);

plot.append("g").selectAll("path").data(redDiamonds).enter().append("path")
  .attr("d", d3.symbol(d3.symbolSquare, 105))
  .attr("transform", d => `translate(${x(d[0])},${y(d[1])}) rotate(45)`)
  .attr("fill", RED);

plot.append("g").selectAll("path").data(yellowTriangles).enter().append("path")
  .attr("d", d3.symbol(d3.symbolTriangle, 100))
  .attr("transform", d => `translate(${x(d[0])},${y(d[1])})`)
  .attr("fill", YELLOW);

plot.append("g").selectAll("circle").data(greenMarks).enter().append("circle")
  .attr("cx", d => x(d[0])).attr("cy", d => y(d[1])).attr("r", 4)
  .attr("fill", GREEN);

// friction lines
frictionLines.forEach(f => {
  const sEnd = Math.min(250, 100 / f.mu);
  plot.append("line")
    .attr("x1", x(0)).attr("y1", y(0))
    .attr("x2", x(sEnd)).attr("y2", y(sEnd * f.mu))
    .attr("stroke", "#111").attr("stroke-width", 2.6);
  svg.append("text").attr("x", f.lx).attr("y", f.ly)
    .attr("font-size", 36).attr("fill", "#111").text(f.label);
});

// axes
const tickColor = "#777";
function styleAxis(g) {
  g.select(".domain").remove();
  g.selectAll(".tick line").attr("stroke", tickColor).attr("stroke-width", 1.6);
  g.selectAll("text").attr("fill", "#1a1a1a").attr("font-family", "Liberation Sans, Arial, sans-serif");
}

svg.append("g").attr("transform", `translate(0,${PB})`)
  .call(d3.axisBottom(x).tickValues(xTicksMinor).tickSizeInner(-8).tickSizeOuter(0).tickFormat(""))
  .call(styleAxis);
svg.append("g").attr("transform", `translate(0,${PB})`)
  .call(d3.axisBottom(x).tickValues(xTicksMajor).tickSizeInner(-17).tickSizeOuter(0).tickPadding(17))
  .call(styleAxis)
  .selectAll("text").attr("font-size", 34);

svg.append("g").attr("transform", `translate(0,${PT})`)
  .call(d3.axisTop(x).tickValues(xTicksMinor).tickSizeInner(-9).tickSizeOuter(0).tickFormat(""))
  .call(styleAxis);
svg.append("g").attr("transform", `translate(0,${PT})`)
  .call(d3.axisTop(x).tickValues(xTicksMajor).tickSizeInner(-18).tickSizeOuter(0).tickFormat(""))
  .call(styleAxis);

svg.append("g").attr("transform", `translate(${PL},0)`)
  .call(d3.axisLeft(y).tickValues(yTicksMajor).tickSizeInner(-18).tickSizeOuter(0).tickPadding(33))
  .call(styleAxis)
  .selectAll("text").attr("font-size", 34);
svg.append("g").attr("transform", `translate(${PR},0)`)
  .call(d3.axisRight(y).tickValues(yTicksMajor).tickSizeInner(-18).tickSizeOuter(0).tickFormat(""))
  .call(styleAxis);

svg.append("rect").attr("x", PL).attr("y", PT).attr("width", PR - PL).attr("height", PB - PT)
  .attr("fill", "none").attr("stroke", "#444").attr("stroke-width", 2.5);

// axis titles
svg.append("text")
  .attr("transform", `translate(47,322) rotate(-90)`)
  .attr("text-anchor", "middle").attr("font-size", 40).attr("fill", "#1a1a1a")
  .text("Shear stress, τ  (MPa)");

const xt = svg.append("text").attr("x", 1055).attr("y", 789)
  .attr("text-anchor", "middle").attr("font-size", 40).attr("fill", "#1a1a1a");
xt.append("tspan").text("Effective normal stress, σ");
xt.append("tspan").attr("dy", 7).attr("font-size", 30).text("n");
xt.append("tspan").attr("dy", -7).text(" (MPa)");

// ---- inset histogram ----
const IL = 1323, IT = 260;
svg.append("rect").attr("x", IL).attr("y", IT).attr("width", PR - IL).attr("height", PB - IT)
  .attr("fill", "#fff").attr("stroke", "#333").attr("stroke-width", 2.5);

const hx = d3.scaleLinear().domain([0, 1]).range([1441, 1819]);
const hy = d3.scaleLinear().domain([0, 20]).range([585, 297]);
const ins = svg.append("g");

ins.append("rect").attr("x", hx(0)).attr("y", hy(20)).attr("width", hx(1) - hx(0)).attr("height", hy(0) - hy(20))
  .attr("fill", "#fff").attr("stroke", "#8a8a8a").attr("stroke-width", 2);

const half = 0.025;
ins.append("g").selectAll("rect").data(binStarts).enter().append("rect")
  .attr("x", d => hx(d)).attr("width", hx(half) - hx(0))
  .attr("y", (d, i) => hy(nonConductive[i])).attr("height", (d, i) => hy(0) - hy(nonConductive[i]))
  .attr("fill", "#d6d6d6").attr("stroke", "#9a9a9a").attr("stroke-width", 1.2);
ins.append("g").selectAll("rect").data(binStarts).enter().append("rect")
  .attr("x", d => hx(d + half)).attr("width", hx(half) - hx(0))
  .attr("y", (d, i) => hy(conductive[i])).attr("height", (d, i) => hy(0) - hy(conductive[i]))
  .attr("fill", "#7a7a7a").attr("stroke", "#5e5e5e").attr("stroke-width", 1.2);

ins.append("line").attr("x1", hx(0)).attr("x2", hx(1)).attr("y1", hy(0)).attr("y2", hy(0))
  .attr("stroke", "#8a8a8a").attr("stroke-width", 2);

ins.append("g").attr("transform", `translate(${hx(0)},0)`)
  .call(d3.axisLeft(hy).tickValues(histYTicks).tickSize(0).tickPadding(9).tickFormat(d => d + "%"))
  .call(g => g.select(".domain").remove())
  .selectAll("text").attr("font-size", 23).attr("fill", "#333");
ins.append("g").attr("transform", `translate(0,${hy(0)})`)
  .call(d3.axisBottom(hx).tickValues(histXTicks).tickSize(0).tickPadding(15)
    .tickFormat(d => d === 0 ? "0" : d.toFixed(1)))
  .call(g => g.select(".domain").remove())
  .selectAll("text").attr("font-size", 23).attr("fill", "#333");

ins.append("text").attr("transform", "translate(1369,451) rotate(-90)")
  .attr("text-anchor", "middle").attr("font-size", 27).attr("fill", "#222").text("Frequency");

const ht = ins.append("text").attr("x", 1632).attr("y", 652)
  .attr("text-anchor", "middle").attr("font-size", 27).attr("fill", "#222");
ht.append("tspan").text("τ/σ");
ht.append("tspan").attr("dy", 7).attr("font-size", 21).text("n");

const legend = [
  { label: "Conductive", fill: "#7a7a7a", stroke: "#5e5e5e" },
  { label: "Non-conductive", fill: "#d6d6d6", stroke: "#9a9a9a" }
];
legend.forEach((l, i) => {
  ins.append("rect").attr("x", 1447).attr("y", 307 + i * 28).attr("width", 18).attr("height", 19)
    .attr("fill", l.fill).attr("stroke", l.stroke).attr("stroke-width", 1.2);
  ins.append("text").attr("x", 1468).attr("y", 325 + i * 28)
    .attr("font-size", 24).attr("fill", "#222").text(l.label);
});
</script>
</body>
</html>
